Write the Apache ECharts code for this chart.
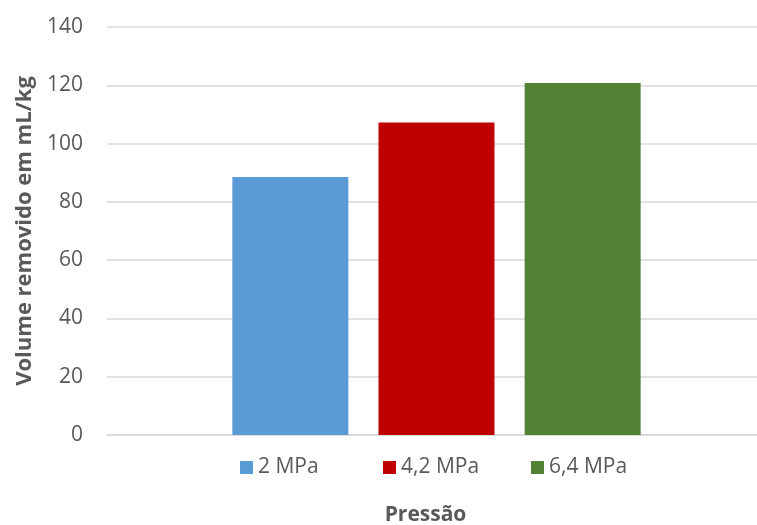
<!DOCTYPE html>
<html lang="pt">
<head>
    <meta charset="UTF-8">
    <title>Volume removido</title>
    <script src="https://cdn.jsdelivr.net/npm/echarts@6/dist/echarts.min.js"></script>
</head>
<body style="margin: 0">
<div id="chart" style="width: 757px;height: 525px"></div>
<script>
    // dados
    let seriesNames = ['2 MPa', '4,2 MPa', '6,4 MPa']
    let seriesValues = [88.5, 107.2, 120.8]
    let seriesColors = ['#5B9BD5', '#C00000', '#548235']
    let categories = ['']

    let chart = echarts.init(document.getElementById('chart'));

    let series = []
    let legends = []
    let legendLeft = [240, 383, 531]
    for (let i = 0; i < seriesNames.length; i++) {
        series.push({
            name: seriesNames[i],
            type: 'bar',
            data: [seriesValues[i]],
            barWidth: 116,
            barGap: '26%',
            itemStyle: {color: seriesColors[i]}
        })
        // uma legenda por série, como no Excel
        legends.push({
            data: [seriesNames[i]],
            bottom: 47,
            left: legendLeft[i],
            padding: 0,
            icon: 'rect',
            itemWidth: 13,
            itemHeight: 13,
            textStyle: {fontSize: 21, color: '#595959'}
        })
    }

    let option = {
        animation: false,
        textStyle: {fontFamily: 'Open Sans'},
        grid: {left: 107, right: -9, top: 27, bottom: 90, outerBoundsMode: 'none', containLabel: false},
        legend: legends,
        xAxis: {
            type: 'category',
            data: categories,
            name: 'Pressão',
            nameLocation: 'middle',
            nameGap: 70,
            nameTextStyle: {fontSize: 21, fontWeight: 'bold', color: '#595959', padding: [0, 22, 0, 0]},
            axisLine: {lineStyle: {color: '#d9d9d9', width: 1.5}},
            axisTick: {show: false},
            axisLabel: {show: false}
        },
        yAxis: {
            type: 'value',
            min: 0,
            max: 140,
            interval: 20,
            name: 'Volume removido em mL/kg',
            nameLocation: 'middle',
            nameGap: 70,
            nameTextStyle: {fontSize: 22, fontWeight: 'bold', color: '#595959'},
            axisLine: {show: false},
            axisTick: {show: false},
            axisLabel: {fontSize: 21, color: '#595959', margin: 24},
            splitLine: {lineStyle: {color: '#d9d9d9', width: 1.5}}
        },
        series: series
    };
    chart.setOption(option);
</script>
</body>
</html>
